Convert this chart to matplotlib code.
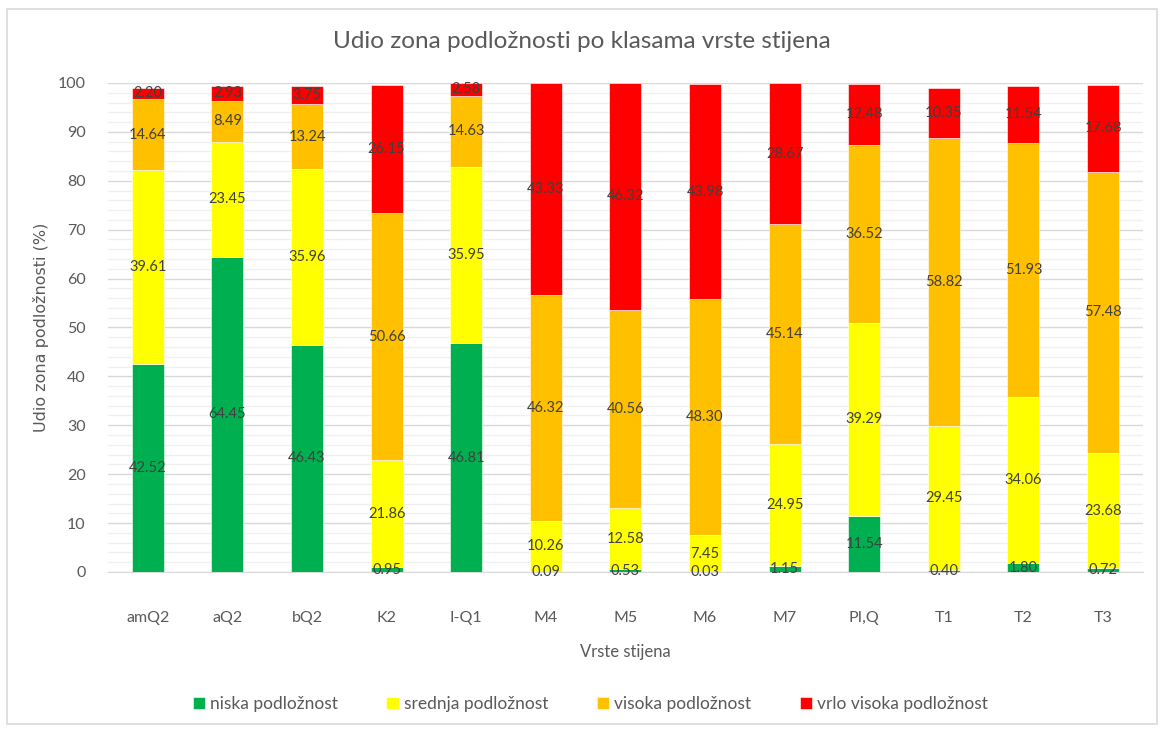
import matplotlib.pyplot as plt
import matplotlib.patches as mpatches
from matplotlib.ticker import MultipleLocator
import numpy as np

plt.rcParams['font.family'] = ['Lato', 'DejaVu Sans']

# rock type classes and susceptibility shares (%)
rock_types = ['amQ2', 'aQ2', 'bQ2', 'K2', 'I-Q1', 'M4', 'M5', 'M6', 'M7', 'PI,Q', 'T1', 'T2', 'T3']
niska = [42.52, 64.45, 46.43, 0.95, 46.81, 0.09, 0.53, 0.03, 1.15, 11.54, 0.40, 1.80, 0.72]
srednja = [39.61, 23.45, 35.96, 21.86, 35.95, 10.26, 12.58, 7.45, 24.95, 39.29, 29.45, 34.06, 23.68]
visoka = [14.64, 8.49, 13.24, 50.66, 14.63, 46.32, 40.56, 48.30, 45.14, 36.52, 58.82, 51.93, 57.48]
vrlo_visoka = [2.20, 2.93, 3.75, 26.15, 2.58, 43.33, 46.32, 43.98, 28.67, 12.48, 10.35, 11.54, 17.68]

series = [
    ('niska podložnost', niska, '#00B050'),
    ('srednja podložnost', srednja, '#FFFF00'),
    ('visoka podložnost', visoka, '#FFC000'),
    ('vrlo visoka podložnost', vrlo_visoka, '#FF0000'),
]

fig = plt.figure(figsize=(11.64, 7.29), dpi=100)
ax = fig.add_axes([0.0928, 0.2154, 0.889, 0.6708])

# light border around the whole chart
fig.patches.append(mpatches.Rectangle((0.006, 0.007), 0.988, 0.981, transform=fig.transFigure,
                                      fill=False, edgecolor='#d9d9d9', linewidth=1.2))

x = np.arange(len(rock_types))
bottom = np.zeros(len(rock_types))
for name, vals, color in series:
    vals = np.array(vals)
    ax.bar(x, vals, 0.4, bottom=bottom, color=color, label=name,
           edgecolor='white', linewidth=0.4, zorder=3)
    for xi, b, v in zip(x, bottom, vals):
        ax.text(xi, b + v / 2, f'{v:.2f}', ha='center', va='center',
                fontsize=10.5, color='#404040', zorder=4)
    bottom += vals

ax.set_xlim(-0.5, len(rock_types) - 0.5)
ax.set_ylim(0, 100)
ax.yaxis.set_major_locator(MultipleLocator(10))
ax.yaxis.set_minor_locator(MultipleLocator(2))
ax.grid(axis='y', which='major', color='#d9d9d9', linewidth=1, zorder=0)
ax.grid(axis='y', which='minor', color='#f0f0f0', linewidth=1, zorder=0)
ax.set_axisbelow(True)

for s in ['top', 'right', 'left']:
    ax.spines[s].set_visible(False)
ax.spines['bottom'].set_color('#d9d9d9')

ax.set_xticks(x)
ax.set_xticklabels(rock_types)
ax.tick_params(axis='x', length=0, pad=28, labelsize=11.5, labelcolor='#595959')
ax.tick_params(axis='y', which='both', length=0, pad=16, labelsize=11.5, labelcolor='#595959')

ax.set_xlabel('Vrste stijena', fontsize=12, color='#595959', labelpad=14)
ax.set_ylabel('Udio zona podložnosti (%)', fontsize=11.5, color='#595959',
              family=['DejaVu Sans'], labelpad=6)

fig.suptitle('Udio zona podložnosti po klasama vrste stijena', y=0.958,
             fontsize=17.5, color='#595959')

ax.legend(loc='center', bbox_to_anchor=(0.466, -0.27), ncol=4, frameon=False,
          fontsize=12.5, labelcolor='#595959', handlelength=0.7, handleheight=0.7,
          handletextpad=0.3, columnspacing=2.8)

fig.savefig('out.png', dpi=100)
